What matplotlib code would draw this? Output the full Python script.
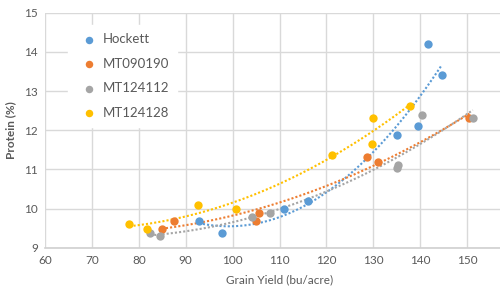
import numpy as np
import matplotlib
matplotlib.use("Agg")
import matplotlib.pyplot as plt

plt.rcParams['font.family'] = ['Lato', 'DejaVu Sans']

# Grain yield (bu/acre) and protein (%) per variety
hockett_x = [92.8, 97.8, 111.0, 116.0, 135.0, 139.5, 141.7, 144.6]
hockett_y = [9.69, 9.38, 9.99, 10.19, 11.88, 12.1, 14.2, 13.41]
mt090190_x = [84.9, 87.5, 105.0, 105.6, 128.6, 130.9, 150.5]
mt090190_y = [9.49, 9.69, 9.69, 9.89, 11.31, 11.2, 12.3]
mt124112_x = [82.4, 84.5, 104.2, 108.0, 135.0, 135.3, 140.4, 151.2]
mt124112_y = [9.37, 9.3, 9.79, 9.89, 11.03, 11.1, 12.39, 12.3]
mt124128_x = [78.0, 81.7, 92.6, 100.7, 121.3, 129.7, 130.0, 137.8]
mt124128_y = [9.6, 9.49, 10.09, 10.0, 11.38, 11.64, 12.32, 12.62]

names = ['Hockett', 'MT090190', 'MT124112', 'MT124128']
colors = ['#5B9BD5', '#ED7D31', '#A5A5A5', '#FFC000']
xs = [hockett_x, mt090190_x, mt124112_x, mt124128_x]
ys = [hockett_y, mt090190_y, mt124112_y, mt124128_y]

fig = plt.figure(figsize=(5, 3), dpi=100)
ax = fig.add_axes([0.09, 0.174, 0.938, 0.784])

for name, c, x, y in zip(names, colors, xs, ys):
    ax.scatter(x, y, s=36, color=c, label=name, zorder=3, linewidths=0)
    # 2nd order polynomial trendline
    p = np.polyfit(x, y, 2)
    tx = np.linspace(min(x), max(x), 100)
    ax.plot(tx, np.polyval(p, tx), color=c, linestyle=(0, (1, 1)), lw=1.5, zorder=2)

ax.set_xlim(60, 160)
ax.set_ylim(9, 15)
ax.set_xticks(range(60, 161, 10))
ax.set_xticklabels([str(v) if v < 160 else '' for v in range(60, 161, 10)])
ax.set_yticks(range(9, 16))
ax.grid(True, color='#D9D9D9', lw=1)
ax.set_axisbelow(True)
for s in ['top', 'right', 'left']:
    ax.spines[s].set_visible(False)
ax.spines['bottom'].set_color('#D0D0D0')
ax.spines['bottom'].set_linewidth(1.2)
ax.tick_params(length=0, colors='#595959', labelsize=8.5, pad=5)
ax.set_xlabel('Grain Yield (bu/acre)', color='#595959', fontsize=8.5, labelpad=6)
ax.set_ylabel('Protein (%)', color='#595959', fontsize=8.5, fontweight='bold', labelpad=6)

leg = ax.legend(loc='upper left', bbox_to_anchor=(0.035, 0.975), frameon=True,
                fontsize=9.5, handletextpad=0.05, labelspacing=0.95,
                markerscale=0.9, borderpad=0.6)
leg.get_frame().set_facecolor('white')
leg.get_frame().set_edgecolor('white')
leg.get_frame().set_alpha(1)
for t in leg.get_texts():
    t.set_color('#595959')

fig.savefig('out.png', dpi=100)
